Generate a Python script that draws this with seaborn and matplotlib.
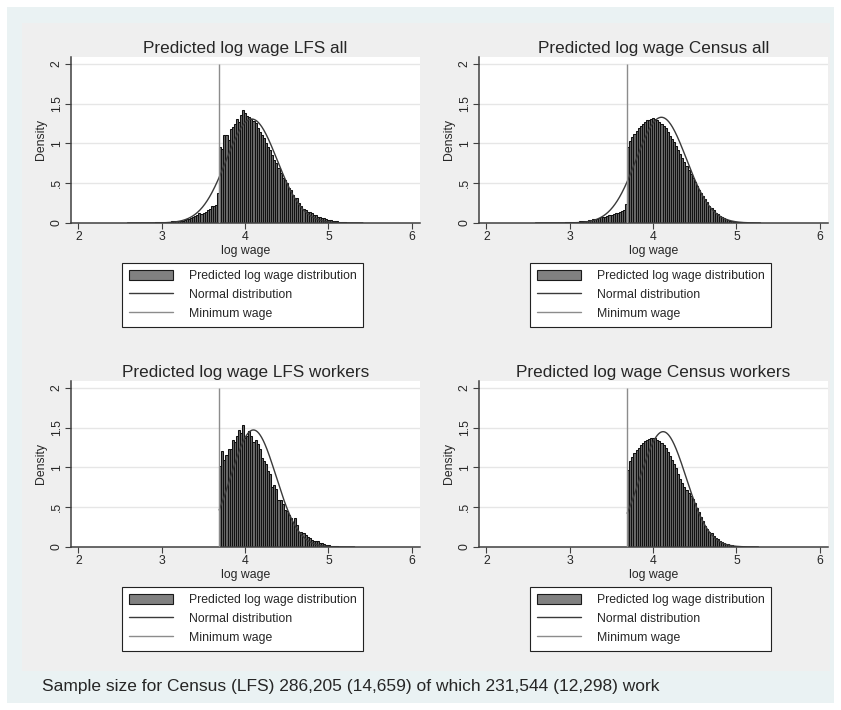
import numpy as np
import pandas as pd
import seaborn as sns
import matplotlib.pyplot as plt
from matplotlib.patches import Rectangle, Patch
from matplotlib.lines import Line2D

# log minimum wage and histogram bin width
minwage = 3.689
binw = 0.025

# LFS all: bars below the minimum wage (from 2.589 up) and above it
lfs_all_below = [0.001, 0.001, 0.001, 0.002, 0.002, 0.002, 0.003, 0.003, 0.004, 0.004,
                 0.005, 0.005, 0.006, 0.007, 0.008, 0.008, 0.010, 0.014, 0.015, 0.016,
                 0.018, 0.020, 0.020, 0.022, 0.025, 0.028, 0.030, 0.040, 0.045, 0.050,
                 0.060, 0.070, 0.090, 0.100, 0.120, 0.110, 0.130, 0.140, 0.160, 0.180,
                 0.210, 0.220, 0.230, 0.380]
lfs_all_above = [0.96, 0.93, 1.11, 1.11, 1.05, 1.18, 1.21, 1.24, 1.31, 1.27,
                 1.36, 1.42, 1.38, 1.35, 1.33, 1.31, 1.28, 1.26, 1.19, 1.15,
                 1.11, 1.07, 1.00, 0.96, 0.92, 0.86, 0.79, 0.75, 0.69, 0.63,
                 0.56, 0.54, 0.50, 0.44, 0.42, 0.35, 0.31, 0.31, 0.25, 0.21,
                 0.18, 0.16, 0.14, 0.14, 0.12, 0.10, 0.10, 0.08, 0.08, 0.06,
                 0.06, 0.05, 0.04, 0.04, 0.03, 0.025, 0.02, 0.015, 0.01, 0.01,
                 0.008, 0.006, 0.005, 0.004, 0.003, 0.003, 0.002, 0.002, 0.001]

# Census all
census_all_below = [0.001, 0.001, 0.001, 0.001, 0.001, 0.002, 0.002, 0.002, 0.003, 0.003,
                    0.004, 0.004, 0.005, 0.006, 0.007, 0.008, 0.009, 0.011, 0.013, 0.015,
                    0.017, 0.020, 0.024, 0.027, 0.030, 0.035, 0.040, 0.045, 0.050, 0.055,
                    0.060, 0.070, 0.075, 0.080, 0.090, 0.095, 0.100, 0.110, 0.120, 0.130,
                    0.140, 0.150, 0.160, 0.240]
census_all_above = [0.95, 1.03, 1.08, 1.12, 1.16, 1.19, 1.22, 1.25, 1.27, 1.29,
                    1.30, 1.31, 1.32, 1.31, 1.29, 1.27, 1.25, 1.22, 1.19, 1.15,
                    1.10, 1.06, 1.02, 0.97, 0.92, 0.87, 0.82, 0.77, 0.72, 0.67,
                    0.62, 0.57, 0.52, 0.47, 0.42, 0.38, 0.34, 0.30, 0.26, 0.22,
                    0.19, 0.16, 0.13, 0.11, 0.09, 0.075, 0.06, 0.048, 0.038, 0.03,
                    0.024, 0.018, 0.014, 0.011, 0.008, 0.006, 0.005, 0.004, 0.003, 0.002,
                    0.002, 0.001, 0.001, 0.001]

# workers only: nothing below the minimum wage
lfs_work = [1.02, 1.21, 1.09, 1.16, 1.23, 1.23, 1.34, 1.32, 1.39, 1.47,
            1.44, 1.54, 1.37, 1.40, 1.46, 1.39, 1.32, 1.34, 1.29, 1.23,
            1.12, 1.08, 1.04, 0.95, 0.92, 0.75, 0.78, 0.73, 0.59, 0.59,
            0.54, 0.47, 0.45, 0.40, 0.37, 0.32, 0.36, 0.28, 0.19, 0.19,
            0.17, 0.15, 0.13, 0.11, 0.09, 0.08, 0.07, 0.07, 0.055, 0.045,
            0.04, 0.03, 0.02, 0.017, 0.013, 0.01, 0.008, 0.006, 0.005, 0.004,
            0.003, 0.002, 0.002, 0.001, 0.001]
census_work = [0.965, 1.08, 1.13, 1.18, 1.22, 1.25, 1.28, 1.31, 1.33, 1.35,
               1.36, 1.37, 1.37, 1.37, 1.35, 1.33, 1.31, 1.28, 1.24, 1.20,
               1.15, 1.10, 1.05, 0.99, 0.92, 0.86, 0.80, 0.76, 0.72, 0.68,
               0.64, 0.60, 0.55, 0.49, 0.44, 0.38, 0.33, 0.27, 0.23, 0.19,
               0.17, 0.14, 0.115, 0.095, 0.078, 0.063, 0.05, 0.04, 0.032, 0.026,
               0.02, 0.016, 0.012, 0.009, 0.007, 0.005, 0.004, 0.003, 0.002, 0.002,
               0.001, 0.001, 0.001]

# normal overlay: mean and sd of each sample
norm_mean = [4.08, 4.10, 4.10, 4.12]
norm_sd = [0.305, 0.300, 0.271, 0.275]

titles = ['Predicted log wage LFS all', 'Predicted log wage Census all',
          'Predicted log wage LFS workers', 'Predicted log wage Census workers']
xticks = [2, 3, 4, 5, 6]
yticks = [0, 0.5, 1, 1.5, 2]
ytick_labels = ['0', '.5', '1', '1.5', '2']
legend_labels = ['Predicted log wage distribution', 'Normal distribution', 'Minimum wage']
note = 'Sample size for Census (LFS) 286,205 (14,659) of which 231,544 (12,298) work'

panels = [
    (lfs_all_below + lfs_all_above, minwage - binw * len(lfs_all_below)),
    (census_all_below + census_all_above, minwage - binw * len(census_all_below)),
    (lfs_work, minwage),
    (census_work, minwage),
]

sns.set_style('white')
plt.rcParams['font.family'] = ['Liberation Sans', 'DejaVu Sans']

W, H = 841, 710
fig = plt.figure(figsize=(W / 100, H / 100), dpi=100)
fig.patch.set_facecolor('white')


def fx(px):
    return px / W


def fy(py):
    return 1 - py / H


# outer bluish region and grey graph regions
fig.add_artist(Rectangle((fx(7), fy(703)), (834 - 7) / W, (703 - 7) / H,
                         transform=fig.transFigure, fc='#EAF2F3', ec='none', zorder=0))
fig.add_artist(Rectangle((fx(22), fy(671)), (830 - 22) / W, (671 - 23) / H,
                         transform=fig.transFigure, fc='#EFEFEF', ec='none', zorder=0))

handles = [Patch(facecolor='#808080', edgecolor='#1a1a1a', linewidth=0.8),
           Line2D([], [], color='#3a3a3a', lw=1.0),
           Line2D([], [], color='#8c8c8c', lw=1.0)]

for i, (heights, start) in enumerate(panels):
    col, row = i % 2, i // 2
    left = 71 + 408 * col
    right = left + 349
    top = 57 + 324 * row
    bottom = 223 + 324 * row
    ax = fig.add_axes([fx(left), fy(bottom), (right - left) / W, (bottom - top) / H])
    ax.set_facecolor('white')

    edges = [start + binw * k for k in range(len(heights) + 1)]
    df = pd.DataFrame({'logwage': [e + binw / 2 for e in edges[:-1]],
                       'density': heights})
    sns.histplot(data=df, x='logwage', weights='density', bins=edges, ax=ax,
                 color='#6a6a6a', edgecolor='#111111', linewidth=0.75, alpha=1,
                 zorder=2)

    xs = np.linspace(edges[0], edges[-1], 400)
    m, s = norm_mean[i], norm_sd[i]
    dens = np.exp(-0.5 * ((xs - m) / s) ** 2) / (s * np.sqrt(2 * np.pi))
    sns.lineplot(x=xs, y=dens, ax=ax, color='#3a3a3a', lw=1.0, zorder=3)

    ax.vlines(minwage, 0, 2, color='#8c8c8c', lw=1.0, zorder=4)

    ax.set_xlim(1.91, 6.1)
    ax.set_ylim(0, 2.088)
    ax.set_xticks(xticks)
    ax.set_yticks(yticks)
    ax.set_yticklabels(ytick_labels, rotation=90, va='center')
    ax.yaxis.grid(True, color='#e6e6e6', lw=1.0)
    ax.set_axisbelow(True)
    for sp in ['top', 'right']:
        ax.spines[sp].set_visible(False)
    for sp in ['left', 'bottom']:
        ax.spines[sp].set_color('#404040')
        ax.spines[sp].set_linewidth(1.1)
    ax.tick_params(axis='both', direction='out', length=4, width=0.8,
                   color='#404040', labelsize=8.8, pad=2, left=True, bottom=True)
    ax.set_xlabel('log wage', fontsize=8.8, labelpad=1)
    ax.set_ylabel('Density', fontsize=8.8, labelpad=3)
    ax.set_title(titles[i], fontsize=12.3, pad=3)

    leg = ax.legend(handles, legend_labels, loc='upper left',
                    bbox_to_anchor=(fx(122 + 408 * col), fy(263 + 324 * row)),
                    bbox_transform=fig.transFigure, frameon=True, fancybox=False,
                    edgecolor='#222222', facecolor='white', framealpha=1,
                    fontsize=8.8, handlelength=3.6, handleheight=0.9,
                    handletextpad=1.3, borderpad=0.55, labelspacing=0.55,
                    borderaxespad=0)
    leg.get_frame().set_linewidth(0.8)

fig.text(fx(42), fy(686), note, fontsize=12.5, va='center', ha='left')

fig.savefig('out.png', dpi=100)
